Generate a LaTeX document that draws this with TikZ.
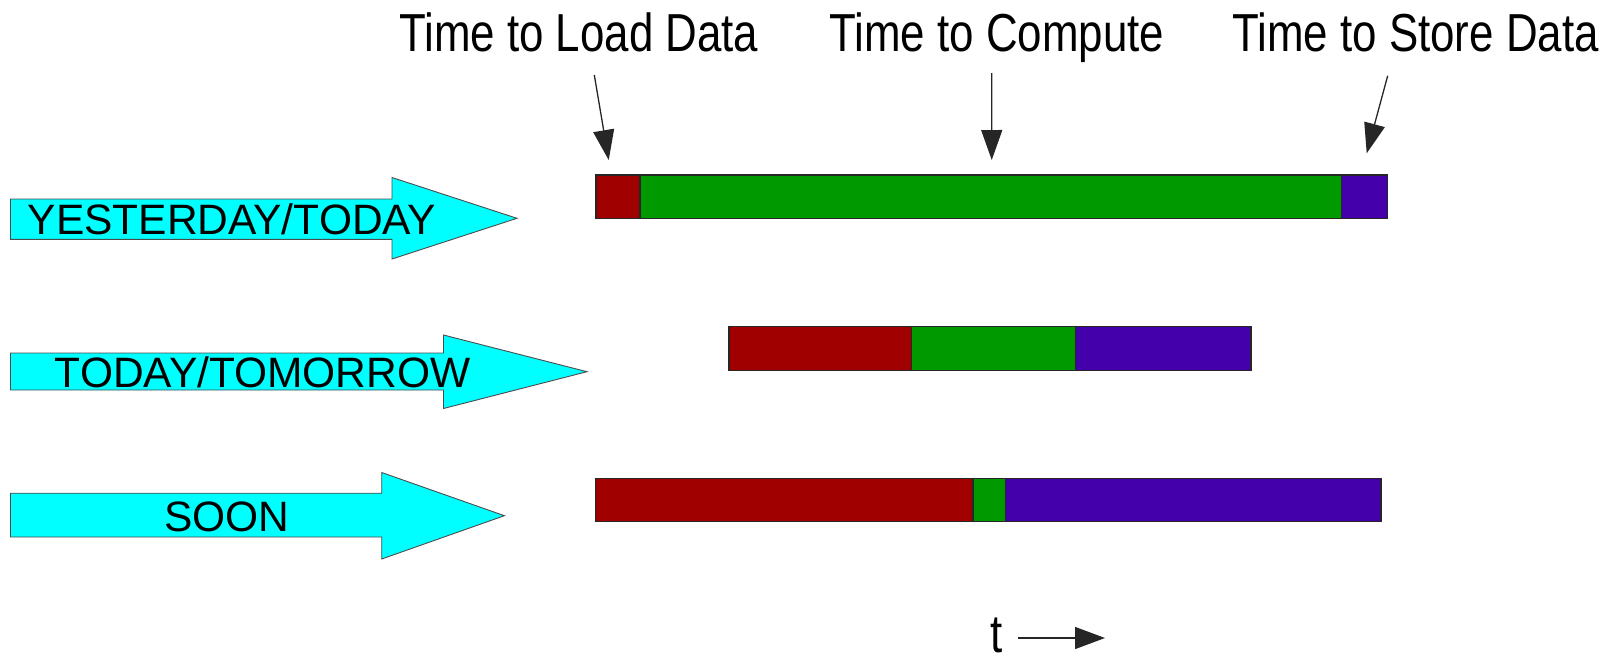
\documentclass[tikz,border=0pt]{standalone}
\usepackage{fontspec}
\setmainfont{Liberation Sans}
\newfontfamily\narrowsans[FakeStretch=0.82]{Liberation Sans}
\usetikzlibrary{arrows.meta, positioning, calc}
\definecolor{loadred}{HTML}{A00000}
\definecolor{computegreen}{HTML}{009900}
\definecolor{storepurple}{HTML}{4400AA}
\definecolor{bannercyan}{HTML}{00FFFF}

\begin{document}
\begin{tikzpicture}[x=1pt, y=-1pt,
      seg/.style = {draw=black!85, line width=1.3pt, minimum height=43.5pt, inner sep=0pt, outer sep=0pt},
      load/.style = {seg, fill=loadred},
      compute/.style = {seg, fill=computegreen},
      store/.style = {seg, fill=storepurple},
      banner/.style = {draw=black!70, line width=0.9pt, fill=bannercyan},
      era/.style = {font=\fontsize{42.5}{48}\selectfont, anchor=base, inner sep=0pt},
      caption/.style = {font=\narrowsans\fontsize{53.5}{60}\selectfont, anchor=base, inner sep=0pt},
      pointer/.style = {-{Triangle[length=30pt,width=21pt]}, line width=1.3pt, draw=black!85}
    ]
    \useasboundingbox (0,0) rectangle (1618,659);

    % era arrows
    \draw[banner] (10.5,199) -- (392,199) -- (392,177.5) -- (517,218.3) -- (392,259) -- (392,239.4) -- (10.5,239.4) -- cycle;
    \draw[banner] (10.5,353) -- (443.5,353) -- (443.5,335) -- (587,371.7) -- (443.5,408.5) -- (443.5,390) -- (10.5,390) -- cycle;
    \draw[banner] (10.5,493.2) -- (381.7,493.2) -- (381.7,472.5) -- (504.4,515.7) -- (381.7,559) -- (381.7,537) -- (10.5,537) -- cycle;

    \node[era] (yesterday) at (232,234) {YESTERDAY/TODAY};
    \node[era] (tomorrow) at (262.7,387.3) {TODAY/TOMORROW};
    \node[era] (soon) at (226.8,531.7) {SOON};

    % bars
    \node[load, minimum width=44pt, anchor=west] (y1load) at (596,196.75) {};
    \node[compute, minimum width=701.5pt, right=0pt of y1load] (y1comp) {};
    \node[store, minimum width=46pt, right=0pt of y1comp] (y1store) {};

    \node[load, minimum width=182.4pt, anchor=west] (y2load) at (729,348.5) {};
    \node[compute, minimum width=163.8pt, right=0pt of y2load] (y2comp) {};
    \node[store, minimum width=175.8pt, right=0pt of y2comp] (y2store) {};

    \node[load, minimum width=377.7pt, anchor=west] (y3load) at (595.4,500) {};
    \node[compute, minimum width=32.7pt, right=0pt of y3load] (y3comp) {};
    \node[store, minimum width=375.2pt, right=0pt of y3comp] (y3store) {};

    % captions
    \node[caption] (loadlbl) at (578.8,51.7) {Time to Load Data};
    \node[caption] (computelbl) at (996.7,51.7) {Time to Compute};
    \node[caption] (storelbl) at (1415.5,51.7) {Time to Store Data};

    \draw[pointer] ($(loadlbl.base)+(15.5,23.3)$) -- ($(y1load.north west)+(12.7,-15)$);
    \draw[pointer] ($(computelbl.base)+(-5,21.3)$) -- ($(y1comp.north)+(1,-15)$);
    \draw[pointer] ($(storelbl.base)+(-27.8,24)$) -- ($(y1store.north)+(2.2,-21.7)$);

    % time axis
    \node[caption] (tlbl) at (997,652) {t};
    \coordinate (tend) at (1105,638);
    \draw[pointer, -{Triangle[length=30pt,width=22pt]}, shorten <=15pt] (tlbl.east |- tend) -- (tend);

\end{tikzpicture}
\end{document}
